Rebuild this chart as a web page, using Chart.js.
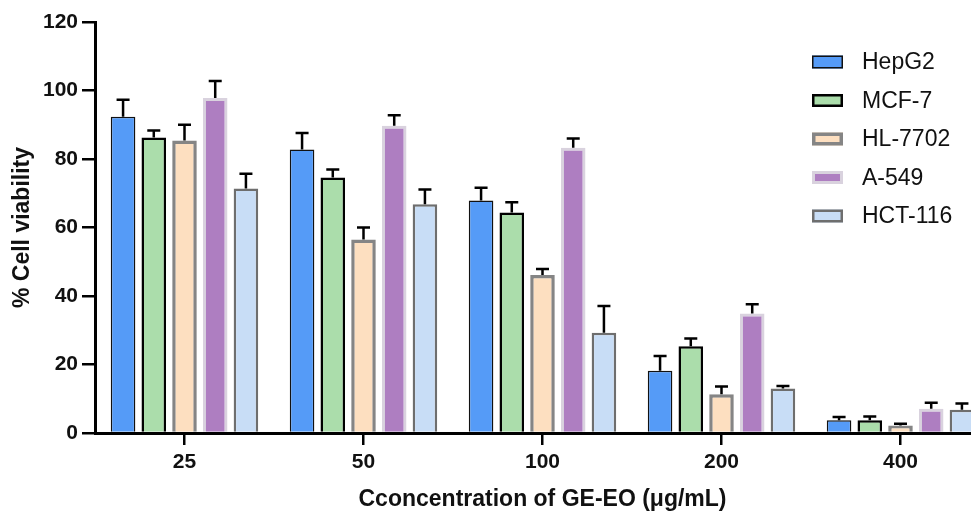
<!DOCTYPE html>
<html lang="en">
<head>
<meta charset="utf-8">
<title>Cell viability vs GE-EO concentration</title>
<script src="https://cdn.jsdelivr.net/npm/chart.js@4"></script>
<style>
  html, body { margin: 0; padding: 0; background: #fff; overflow: hidden; }
  #wrap { width: 990px; height: 518px; }
</style>
</head>
<body>
<div id="wrap"><canvas id="chart" width="990" height="518"></canvas></div>
<script>
// doses (µg/mL) on the x axis
const doses = ['25', '50', '100', '200', '400'];

// mean % viability per cell line
const hepg2  = [92.3, 82.8, 67.9, 18.2, 3.7];
const mcf7   = [86.3, 74.6, 64.4, 25.3, 3.7];
const hl7702 = [85.4, 56.5, 46.1, 11.3, 2.2];
const a549   = [97.8, 89.7, 83.3, 34.9, 7.1];
const hct116 = [71.4, 66.8, 29.3, 13.0, 6.8];

// upper error bars (SD)
const hepg2Sd  = [5.0, 4.8, 3.7, 4.3, 1.0];
const mcf7Sd   = [2.0, 2.3, 3.0, 2.3, 1.1];
const hl7702Sd = [4.6, 3.5, 1.8, 2.3, 0.5];
const a549Sd   = [5.0, 3.1, 2.7, 2.7, 1.7];
const hct116Sd = [4.3, 4.3, 7.8, 0.7, 1.8];

const yTicks = [0, 20, 40, 60, 80, 100, 120];

const FONT = "'Liberation Sans', Arial, Helvetica, sans-serif";

const series = [
  { label: 'HepG2',   data: hepg2,  sd: hepg2Sd,  fill: '#559BF7', stroke: '#111111', bw: 1.5 },
  { label: 'MCF-7',   data: mcf7,   sd: mcf7Sd,   fill: '#ABDDAB', stroke: '#000000', bw: 2.5 },
  { label: 'HL-7702', data: hl7702, sd: hl7702Sd, fill: '#FDDFC0', stroke: '#858585', bw: 3.5 },
  { label: 'A-549',   data: a549,   sd: a549Sd,   fill: '#AE7EC1', stroke: '#D9D2DE', bw: 3 },
  { label: 'HCT-116', data: hct116, sd: hct116Sd, fill: '#C8DDF6', stroke: '#6E6E6E', bw: 2.5 }
];

// upward error bars with caps
const errorBars = {
  id: 'errorBars',
  afterDatasetsDraw(chart) {
    const { ctx } = chart;
    const y = chart.scales.y;
    ctx.save();
    ctx.strokeStyle = '#000';
    ctx.lineWidth = 2.5;
    chart.data.datasets.forEach((ds, i) => {
      const meta = chart.getDatasetMeta(i);
      meta.data.forEach((bar, j) => {
        const top = y.getPixelForValue(ds.data[j] + ds.sd[j]);
        ctx.beginPath();
        ctx.moveTo(bar.x, bar.y);
        ctx.lineTo(bar.x, top);
        ctx.moveTo(bar.x - 6.5, top);
        ctx.lineTo(bar.x + 6.5, top);
        ctx.stroke();
      });
    });
    ctx.restore();
  }
};

// legend in the upper right, over the plot
const cornerLegend = {
  id: 'cornerLegend',
  afterDraw(chart) {
    const { ctx } = chart;
    const x0 = 812, y0 = 62, gap = 38.5, bwid = 31, bh = 13;
    ctx.save();
    ctx.font = '23px ' + FONT;
    ctx.textBaseline = 'middle';
    chart.data.datasets.forEach((ds, i) => {
      const cy = y0 + i * gap;
      const lw = ds.borderWidth;
      ctx.fillStyle = ds.backgroundColor;
      ctx.fillRect(x0, cy - bh / 2, bwid, bh);
      ctx.strokeStyle = ds.borderColor;
      ctx.lineWidth = lw;
      ctx.strokeRect(x0 + lw / 2, cy - bh / 2 + lw / 2, bwid - lw, bh - lw);
      ctx.fillStyle = '#111';
      ctx.fillText(ds.label, x0 + 50, cy + 1);
    });
    ctx.restore();
  }
};

new Chart(document.getElementById('chart'), {
  type: 'bar',
  data: {
    labels: doses,
    datasets: series.map(s => ({
      label: s.label,
      data: s.data,
      sd: s.sd,
      backgroundColor: s.fill,
      borderColor: s.stroke,
      borderWidth: s.bw,
      borderSkipped: 'bottom',
      categoryPercentage: 0.858,
      barPercentage: 0.8
    }))
  },
  options: {
    responsive: false,
    animation: false,
    devicePixelRatio: 1,
    layout: { padding: { top: 22, left: 0, right: 0, bottom: 0 } },
    plugins: { legend: { display: false }, tooltip: { enabled: false } },
    scales: {
      x: {
        offset: true,
        grid: { offset: false, drawOnChartArea: false, drawTicks: true, tickLength: 12, color: '#000', lineWidth: 2.5 },
        border: { color: '#000', width: 3 },
        ticks: { color: '#111', padding: 5, font: { family: FONT, size: 21, weight: 'bold' } },
        title: {
          display: true,
          text: 'Cconcentration of GE-EO (μg/mL)',
          color: '#111',
          padding: { top: 0, bottom: 5 },
          font: { family: FONT, size: 23, weight: 'bold' }
        },
        afterFit(scale) { scale.height = 85; }
      },
      y: {
        min: 0,
        max: 120,
        afterBuildTicks(scale) { scale.ticks = yTicks.map(v => ({ value: v })); },
        grid: { drawOnChartArea: false, drawTicks: true, tickLength: 13, color: '#000', lineWidth: 2.5 },
        border: { color: '#000', width: 3 },
        ticks: { color: '#111', padding: 4, font: { family: FONT, size: 21, weight: 'bold' } },
        title: {
          display: true,
          text: '% Cell viability',
          color: '#111',
          padding: { top: 9, bottom: 0 },
          font: { family: FONT, size: 23, weight: 'bold' }
        },
        afterFit(scale) { scale.width = 95; }
      }
    }
  },
  plugins: [errorBars, cornerLegend]
});
</script>
</body>
</html>
